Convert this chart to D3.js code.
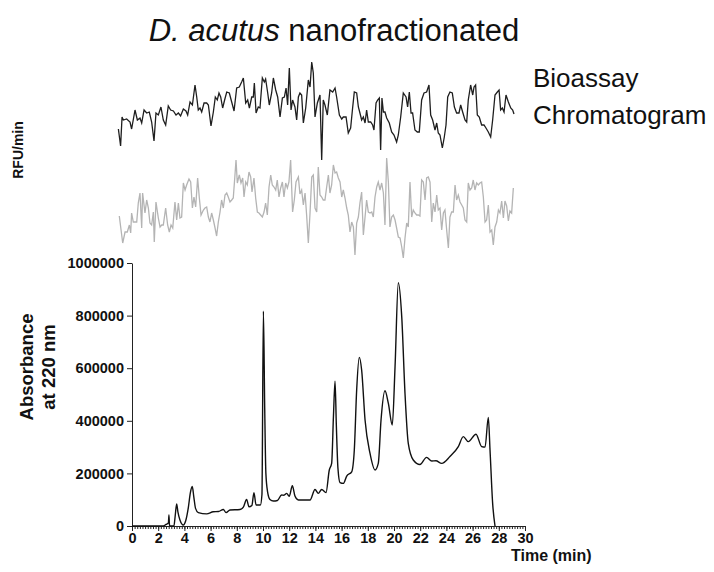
<!DOCTYPE html>
<html>
<head>
<meta charset="utf-8">
<script src="https://cdn.jsdelivr.net/npm/d3@7"></script>
<style>
  body { margin: 0; background: #fff; }
  svg { font-family: Arial, "Liberation Sans", sans-serif; }
  .axis text { font-weight: bold; font-size: 14.5px; fill: #111; }
  .axis path, .axis line { stroke: #222; }
</style>
</head>
<body>
<div id="chart"></div>
<script>
// tick labels
var timeTicks = [0, 2, 4, 6, 8, 10, 12, 14, 16, 18, 20, 22, 24, 26, 28, 30];
var absTicks = [0, 200000, 400000, 600000, 800000, 1000000];

// UV chromatogram (absorbance at 220 nm)
var chromTime = [0, 2.4, 2.6, 2.78, 2.82, 2.86, 2.9, 3.2, 3.3, 3.41, 3.5, 3.66, 3.92, 4.1, 4.3, 4.45, 4.6, 4.72, 4.85, 5.06,
  5.7, 6.2, 6.6, 6.97, 7.18, 7.48, 8.24, 8.5, 8.75, 8.93, 9.15, 9.31, 9.47, 9.8, 9.92, 10.03, 10.13, 10.22, 10.35, 10.53,
  10.79, 11.1, 11.42, 11.6, 11.81, 12.0, 12.24, 12.44, 12.7, 13.59, 13.97, 14.22, 14.48, 14.81, 15.06, 15.24, 15.38, 15.5, 15.6, 15.72,
  15.88, 16.13, 16.39, 16.77, 16.97, 17.15, 17.35, 17.53, 17.79, 18.17, 18.55, 18.8, 19.01, 19.31, 19.57, 19.87, 20.08, 20.33, 20.59, 20.84,
  21.09, 21.47, 21.98, 22.49, 22.88, 23.2, 23.64, 24.27, 24.91, 25.29, 25.67, 26.26, 26.69, 26.95, 27.2, 27.33, 27.53, 27.71];
var chromAbs = [0, 0, 6000, 12000, 42000, 4000, 0, 0, 40000, 84000, 55000, 23000, 4000, 20000, 70000, 125000, 150000, 110000, 67000, 51000,
  46000, 54000, 55000, 63000, 51000, 61000, 63000, 72000, 101000, 73000, 78000, 127000, 80000, 80000, 120000, 817000, 450000, 200000, 130000, 101000,
  95000, 97000, 118000, 117000, 124000, 113000, 153000, 114000, 99000, 99000, 139000, 124000, 139000, 127000, 213000, 238000, 420000, 551000, 380000, 220000,
  165000, 162000, 190000, 206000, 289000, 517000, 641000, 593000, 403000, 276000, 213000, 238000, 403000, 514000, 466000, 384000, 606000, 925000, 796000, 504000,
  314000, 251000, 234000, 261000, 247000, 248000, 238000, 264000, 302000, 340000, 321000, 349000, 302000, 300000, 413000, 289000, 86000, 0];

// bioassay trace (black), RFU/min in arbitrary units
var bioTime = [-1.04, -0.87, -0.76, -0.66, -0.41, -0.15, -0.03, 0.23, 0.41, 0.61, 0.74, 0.92, 1.12, 1.32, 1.50, 1.68, 1.83,
  2.01, 2.21, 2.39, 2.57, 2.77, 2.95, 3.16, 3.36, 3.54, 3.71, 3.92, 4.12, 4.25, 4.43, 4.61, 4.81, 4.94, 5.06, 5.19, 5.32, 5.50, 5.70, 5.83,
  6.03, 6.21, 6.36, 6.51, 6.64, 6.77, 6.92, 7.07, 7.23, 7.43, 7.61, 7.79, 7.99, 8.19, 8.37, 8.50, 8.68, 8.83, 8.96, 9.14, 9.26, 9.34, 9.47, 9.64, 9.77, 9.95,
  10.10, 10.20, 10.36, 10.48, 10.66, 10.79, 10.97, 11.12, 11.30, 11.48, 11.63, 11.76, 11.88, 12.01, 12.14, 12.26, 12.44, 12.57, 12.70, 12.82, 12.95,
  13.08, 13.26, 13.46, 13.59, 13.72, 13.84, 13.97, 14.15, 14.35,
  14.48, 14.60, 14.73, 14.91, 15.11, 15.32, 15.50, 15.62, 15.83, 16.01, 16.13, 16.34, 16.51, 16.69, 16.84, 16.97, 17.15, 17.28, 17.40, 17.53,
  17.66, 17.79, 17.91, 18.04, 18.22, 18.37, 18.47, 18.63, 18.75, 18.88, 18.98, 19.08, 19.19, 19.31, 19.44, 19.64, 19.82, 20.00, 20.20, 20.33,
  20.51, 20.71, 20.92, 21.04, 21.17, 21.30, 21.42, 21.60, 21.78, 21.93, 22.11, 22.29, 22.49, 22.67, 22.80, 22.95, 23.13, 23.26, 23.38, 23.51,
  23.69, 23.84, 23.97, 24.10, 24.27, 24.45, 24.61, 24.78, 24.96, 25.09, 25.24, 25.42, 25.55, 25.67, 25.85, 26.01, 26.11, 26.23, 26.36, 26.51,
  26.69, 26.87, 27.02, 27.20, 27.38, 27.53, 27.71, 27.89, 28.02, 28.14, 28.27, 28.40, 28.55, 28.73, 28.91, 29.06, 29.16];
var bioRfu = [31, 14, 43, 40, 41, 38, 31, 50, 40, 42, 37, 50, 47, 48, 38, 19, 47,
  45, 53, 40, 35, 54, 50, 49, 45, 47, 44, 51, 49, 45, 58, 55, 75, 63, 50, 52, 48, 57, 57, 55,
  34, 48, 63, 60, 67, 63, 52, 60, 68, 67, 58, 49, 72, 73, 78, 82, 57, 60, 52, 63, 63, 77, 47, 53, 52, 82,
  78, 81, 67, 55, 67, 82, 70, 63, 43, 62, 63, 72, 55, 92, 50, 60, 53, 40, 63, 67, 65,
  37, 52, 80, 73, 98, 87, 43, 57, 65,
  0, 60, 55, 45, 70, 68, 72, 63, 45, 41, 43, 43, 27, 32, 52, 68, 67, 53, 47, 40,
  43, 37, 50, 38, 38, 35, 30, 57, 60, 62, 10, 62, 48, 48, 42, 37, 28, 25, 18, 25,
  43, 67, 63, 53, 68, 47, 47, 30, 28, 28, 60, 67, 68, 75, 45, 40, 30, 37, 27, 25,
  12, 23, 35, 63, 68, 67, 53, 47, 47, 55, 48, 40, 38, 60, 75, 65, 73, 75, 45, 43,
  35, 35, 32, 28, 23, 40, 65, 68, 70, 50, 52, 48, 65, 58, 52, 50, 46];

// reconstructed chromatogram trace (grey), RFU/min in arbitrary units
var chromRfuTime = [-0.97, -0.71, -0.53, -0.36, -0.20, -0.10, -0.03, 0.10, 0.23, 0.36, 0.48, 0.61, 0.74, 0.81, 0.99, 1.12, 1.25, 1.37, 1.50, 1.63,
  1.70, 1.83, 2.01, 2.14, 2.27, 2.39, 2.57, 2.72, 2.85, 2.98, 3.11, 3.28, 3.41, 3.54, 3.66, 3.79, 3.92, 4.05, 4.17, 4.35,
  4.48, 4.61, 4.73, 4.86, 5.01, 5.14, 5.27, 5.45, 5.57, 5.70, 5.83, 5.95, 6.08, 6.21, 6.34, 6.46, 6.59, 6.72, 6.84, 6.97,
  7.10, 7.23, 7.35, 7.48, 7.61, 7.73, 7.86, 7.94, 8.04, 8.19, 8.32, 8.45, 8.55, 8.68, 8.80, 8.93, 9.06, 9.16, 9.31, 9.44,
  9.57, 9.69, 9.82, 9.95, 10.08, 10.20, 10.33, 10.46, 10.59, 10.71, 10.84, 10.97, 11.09, 11.22, 11.35, 11.48, 11.60, 11.73, 11.86, 11.98,
  12.11, 12.26, 12.39, 12.52, 12.70, 12.82,
  12.95, 13.08, 13.21, 13.33, 13.46, 13.59, 13.72, 13.84, 13.97, 14.10, 14.22, 14.35, 14.48, 14.60, 14.73, 14.86, 14.99, 15.11, 15.24, 15.37,
  15.50, 15.62, 15.75, 15.88, 16.01, 16.13, 16.26, 16.39, 16.51, 16.64, 16.77, 16.90, 17.02, 17.15, 17.28, 17.40, 17.53, 17.66, 17.79, 17.91,
  18.04, 18.17, 18.30, 18.42, 18.55, 18.68, 18.80, 18.93, 19.06, 19.19, 19.31, 19.44, 19.57, 19.69, 19.82, 19.95, 20.08, 20.20, 20.33, 20.46,
  20.59, 20.71, 20.84, 20.97, 21.09, 21.22, 21.35, 21.47, 21.60, 21.73, 21.86, 21.98, 22.11, 22.24, 22.37, 22.49, 22.62, 22.75, 22.88, 23.00,
  23.13, 23.26, 23.38, 23.51, 23.64, 23.77, 23.89, 24.02, 24.15, 24.27, 24.40, 24.53, 24.66, 24.78, 24.91, 25.04, 25.17, 25.29, 25.42, 25.55,
  25.67, 25.80, 25.93, 26.05, 26.18, 26.31, 26.44, 26.56, 26.69, 26.82, 26.95, 27.07, 27.20, 27.33, 27.46, 27.58, 27.71, 27.84, 27.97, 28.09,
  28.22, 28.35, 28.47, 28.60, 28.73, 28.85, 28.98, 29.11];
var chromRfu = [46, 19, 30, 30, 37, 29, 49, 40, 40, 40, 59, 69, 34, 69, 49, 62, 54, 39, 37, 50,
  20, 60, 44, 35, 37, 37, 54, 37, 30, 37, 34, 60, 42, 59, 44, 45, 79, 72, 77, 83,
  80, 54, 65, 55, 84, 64, 47, 52, 54, 55, 45, 40, 49, 42, 34, 26, 40, 50, 62, 54,
  67, 69, 65, 60, 62, 64, 87, 102, 79, 87, 79, 84, 65, 80, 77, 90, 85, 70, 84, 64,
  50, 49, 47, 45, 50, 59, 47, 75, 87, 77, 75, 72, 82, 65, 74, 80, 65, 79, 74, 80,
  102, 50, 62, 80, 85, 68,
  72, 57, 69, 47, 19, 49, 85, 87, 54, 50, 95, 67, 65, 62, 62, 75, 87, 69, 77, 97,
  89, 90, 84, 80, 65, 72, 64, 54, 47, 30, 40, 35, 7, 39, 45, 59, 70, 27, 45, 62,
  50, 49, 50, 45, 65, 75, 80, 72, 79, 69, 37, 104, 80, 35, 45, 47, 42, 34, 25, 24,
  15, 4, 24, 39, 35, 80, 45, 52, 49, 47, 47, 46, 82, 80, 62, 84, 85, 80, 40, 59,
  50, 67, 52, 54, 32, 49, 52, 32, 14, 45, 50, 50, 77, 62, 67, 60, 57, 54, 42, 40,
  79, 72, 74, 82, 72, 79, 77, 79, 80, 65, 40, 42, 57, 30, 32, 17, 35, 40, 52, 49,
  61, 44, 61, 56, 41, 51, 49, 74];

var width = 714, height = 572;

var svg = d3.select("#chart").append("svg")
    .attr("width", width)
    .attr("height", height);

// scales
var x = d3.scaleLinear().domain([0, 30]).range([132, 525]);
var y = d3.scaleLinear().domain([0, 1000000]).range([526, 263]);
var yBio = d3.scaleLinear().domain([0, 100]).range([160, 60]);
var yChr = d3.scaleLinear().domain([0, 100]).range([262, 162]);

// title
var title = svg.append("text")
    .attr("x", 334)
    .attr("y", 41)
    .attr("text-anchor", "middle")
    .style("font-size", "31px")
    .style("fill", "#111");
title.append("tspan").style("font-style", "italic").text("D. acutus");
title.append("tspan").text(" nanofractionated");

// bioassay traces
var bioLine = d3.line()
    .x(function(d) { return x(d[0]); })
    .y(function(d) { return yBio(d[1]); });
var chrLine = d3.line()
    .x(function(d) { return x(d[0]); })
    .y(function(d) { return yChr(d[1]); });

svg.append("path")
    .datum(d3.zip(chromRfuTime, chromRfu))
    .attr("fill", "none")
    .attr("stroke", "#b4b4b4")
    .attr("stroke-width", 1.3)
    .attr("d", chrLine);

svg.append("path")
    .datum(d3.zip(bioTime, bioRfu))
    .attr("fill", "none")
    .attr("stroke", "#1e1e1e")
    .attr("stroke-width", 1.3)
    .attr("d", bioLine);

svg.append("text").attr("x", 533).attr("y", 87)
    .style("font-size", "26px").style("fill", "#111").text("Bioassay");
svg.append("text").attr("x", 533).attr("y", 124)
    .style("font-size", "26px").style("fill", "#111").text("Chromatogram");

svg.append("text")
    .attr("transform", "translate(23,150) rotate(-90)")
    .attr("text-anchor", "middle")
    .style("font-size", "14px")
    .style("font-weight", "bold")
    .style("fill", "#111")
    .text("RFU/min");

// x axis: minor ticks then major ticks with labels
svg.append("g")
    .attr("class", "axis")
    .attr("transform", "translate(0,526)")
    .call(d3.axisBottom(x).ticks(120).tickSize(3).tickSizeOuter(0).tickFormat(""));

svg.append("g")
    .attr("class", "axis")
    .attr("transform", "translate(0,526)")
    .call(d3.axisBottom(x).tickValues(timeTicks).tickSize(5).tickSizeOuter(0).tickPadding(2));

// y axis
svg.append("g")
    .attr("class", "axis")
    .attr("transform", "translate(132,0)")
    .call(d3.axisLeft(y).tickValues(absTicks).tickSize(5).tickSizeOuter(0).tickPadding(3).tickFormat(d3.format("d")));

// absorbance trace
svg.append("path")
    .datum(d3.zip(chromTime, chromAbs))
    .attr("fill", "none")
    .attr("stroke", "#111")
    .attr("stroke-width", 1.4)
    .attr("stroke-linejoin", "round")
    .attr("d", d3.line()
        .curve(d3.curveMonotoneX)
        .x(function(d) { return x(d[0]); })
        .y(function(d) { return y(d[1]); }));

// axis titles
var yTitle = svg.append("text")
    .attr("transform", "translate(37,367) rotate(-90)")
    .attr("text-anchor", "middle")
    .style("font-size", "18.5px")
    .style("font-weight", "bold")
    .style("fill", "#111");
yTitle.append("tspan").attr("x", 0).attr("dy", "-0.2em").text("Absorbance");
yTitle.append("tspan").attr("x", 0).attr("dy", "1.15em").text("at 220 nm");

svg.append("text")
    .attr("x", 511)
    .attr("y", 561)
    .style("font-size", "16px")
    .style("font-weight", "bold")
    .style("fill", "#111")
    .text("Time (min)");
</script>
</body>
</html>
